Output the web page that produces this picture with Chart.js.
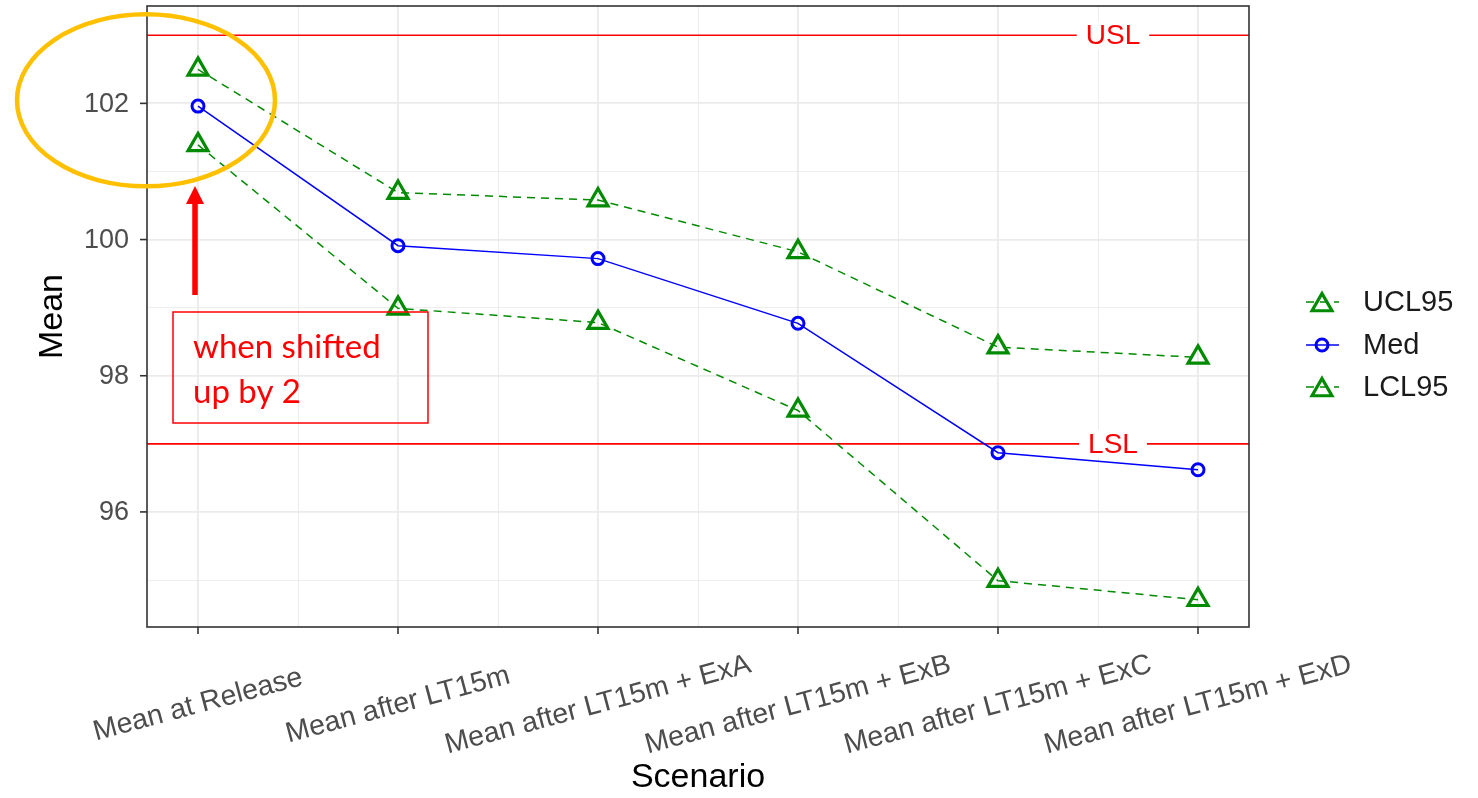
<!DOCTYPE html>
<html>
<head>
<meta charset="utf-8">
<script src="https://cdn.jsdelivr.net/npm/chart.js@4.4.1/dist/chart.umd.min.js"></script>
<style>
  html, body { margin: 0; padding: 0; background: #fff; }
  canvas { display: block; }
</style>
</head>
<body>
<canvas id="chart" width="1478" height="798"></canvas>
<script>
// values
const categories = [
  'Mean at Release',
  'Mean after LT15m',
  'Mean after LT15m + ExA',
  'Mean after LT15m + ExB',
  'Mean after LT15m + ExC',
  'Mean after LT15m + ExD'
];
const ucl95 = [102.50, 100.69, 100.58, 99.82, 98.42, 98.27];
const med = [101.96, 99.91, 99.72, 98.77, 96.87, 96.62];
const lcl95 = [101.39, 98.99, 98.78, 97.49, 94.99, 94.71];
const specValues = [103, 97];
const specLabels = ['USL', 'LSL'];
const yTickValues = [96, 98, 100, 102];
const seriesNames = ['UCL95', 'Med', 'LCL95'];
const noteLines = ['when shifted', 'up by 2'];

const GREEN = '#008B00';
const BLUE = '#0000FF';
const RED = '#FF0000';
const AXIS_FONT = '"Liberation Sans", Arial, sans-serif';

const toPoints = arr => arr.map((v, i) => ({ x: i + 1, y: v }));

const decor = {
  id: 'decor',
  beforeDatasetsDraw(chart) {
    const { ctx, chartArea: a, scales: { x, y } } = chart;
    ctx.save();
    specValues.forEach((v, i) => {
      const py = y.getPixelForValue(v);
      ctx.strokeStyle = RED;
      ctx.lineWidth = 1.6;
      ctx.beginPath();
      ctx.moveTo(a.left, py);
      ctx.lineTo(a.right, py);
      ctx.stroke();
      // label sitting on the line
      const lx = x.getPixelForValue(5.575);
      ctx.font = '28px ' + AXIS_FONT;
      const w = ctx.measureText(specLabels[i]).width;
      ctx.fillStyle = '#fff';
      ctx.fillRect(lx - w / 2 - 9, py - 14, w + 18, 28);
      ctx.fillStyle = RED;
      ctx.textAlign = 'center';
      ctx.textBaseline = 'middle';
      ctx.fillText(specLabels[i], lx, py + 1);
    });
    ctx.restore();
  },
  afterDraw(chart) {
    const { ctx, chartArea: a, scales: { x, y } } = chart;
    ctx.save();

    // panel border
    ctx.strokeStyle = '#333333';
    ctx.lineWidth = 1.6;
    ctx.strokeRect(a.left, a.top, a.right - a.left, a.bottom - a.top);

    // tick marks + labels
    ctx.fillStyle = '#4D4D4D';
    ctx.font = '27px ' + AXIS_FONT;
    ctx.textAlign = 'right';
    ctx.textBaseline = 'middle';
    yTickValues.forEach(v => {
      const py = y.getPixelForValue(v);
      ctx.beginPath();
      ctx.moveTo(a.left - 7, py);
      ctx.lineTo(a.left, py);
      ctx.stroke();
      ctx.fillText(String(v), a.left - 18, py + 1);
    });
    ctx.font = '28.5px ' + AXIS_FONT;
    categories.forEach((c, i) => {
      const px = x.getPixelForValue(i + 1);
      ctx.beginPath();
      ctx.moveTo(px, a.bottom);
      ctx.lineTo(px, a.bottom + 7);
      ctx.stroke();
      ctx.save();
      ctx.translate(px, a.bottom + 78);
      ctx.rotate(-15 * Math.PI / 180);
      ctx.textAlign = 'center';
      ctx.fillText(c, 0, 0);
      ctx.restore();
    });

    // axis titles
    ctx.fillStyle = '#000';
    ctx.font = '34px ' + AXIS_FONT;
    ctx.textAlign = 'center';
    ctx.fillText('Scenario', (a.left + a.right) / 2, 778);
    ctx.save();
    ctx.translate(53, (a.top + a.bottom) / 2);
    ctx.rotate(-Math.PI / 2);
    ctx.fillText('Mean', 0, 0);
    ctx.restore();

    // legend
    const rows = [302, 345, 387];
    [0, 1, 2].forEach((di, r) => {
      const ds = chart.data.datasets[di];
      const ly = rows[r];
      ctx.strokeStyle = ds.borderColor;
      ctx.lineWidth = 1.6;
      ctx.setLineDash(ds.borderDash || []);
      ctx.beginPath();
      ctx.moveTo(1306, ly);
      ctx.lineTo(1339, ly);
      ctx.stroke();
      ctx.setLineDash([]);
      ctx.lineWidth = ds.pointBorderWidth;
      ctx.strokeStyle = ds.pointBorderColor;
      ctx.fillStyle = 'rgba(0,0,0,0)';
      Chart.helpers.drawPoint(ctx, {
        pointStyle: ds.pointStyle,
        radius: ds.pointRadius,
        rotation: 0,
        borderWidth: ds.pointBorderWidth
      }, 1322, ly + (ds.pointStyle === 'triangle' ? 3 : 0));
      ctx.fillStyle = '#1A1A1A';
      ctx.font = '29px ' + AXIS_FONT;
      ctx.textAlign = 'left';
      ctx.textBaseline = 'middle';
      ctx.fillText(seriesNames[di], 1363, ly + 1);
    });

    // annotation: ellipse, arrow, note box
    const cx = x.getPixelForValue(1);
    ctx.strokeStyle = '#FFC000';
    ctx.lineWidth = 4.5;
    ctx.beginPath();
    ctx.ellipse(cx - 52, y.getPixelForValue(102) - 3, 129, 86, 0, 0, Math.PI * 2);
    ctx.stroke();

    ctx.strokeStyle = RED;
    ctx.fillStyle = RED;
    ctx.lineWidth = 5.5;
    ctx.beginPath();
    ctx.moveTo(cx - 3, 295);
    ctx.lineTo(cx - 3, 200);
    ctx.stroke();
    ctx.beginPath();
    ctx.moveTo(cx - 3, 186);
    ctx.lineTo(cx - 12, 204);
    ctx.lineTo(cx + 6, 204);
    ctx.closePath();
    ctx.fill();

    ctx.lineWidth = 1.5;
    ctx.strokeRect(cx - 25, 312, 255, 111);
    ctx.font = '33px Lato, "Open Sans", sans-serif';
    ctx.textAlign = 'left';
    ctx.textBaseline = 'middle';
    noteLines.forEach((t, i) => ctx.fillText(t, cx - 5, 347 + i * 45));

    ctx.restore();
  }
};

const xTicks = categories.flatMap((c, i) => (i === 0 ? [1] : [i + 0.5, i + 1]));
const yTicks = [95, 96, 97, 98, 99, 100, 101, 102, 103];

const triangleSeries = (name, values) => ({
  label: name,
  data: toPoints(values),
  borderColor: GREEN,
  borderWidth: 1.5,
  borderDash: [8, 6],
  pointStyle: 'triangle',
  pointRadius: 11.5,
  pointBorderColor: GREEN,
  pointBackgroundColor: 'rgba(0,0,0,0)',
  pointBorderWidth: 3.2
});

new Chart(document.getElementById('chart'), {
  type: 'line',
  data: {
    datasets: [
      triangleSeries(seriesNames[0], ucl95),
      {
        label: seriesNames[1],
        data: toPoints(med),
        borderColor: BLUE,
        borderWidth: 1.5,
        pointStyle: 'circle',
        pointRadius: 6,
        pointBorderColor: BLUE,
        pointBackgroundColor: 'rgba(0,0,0,0)',
        pointBorderWidth: 3
      },
      triangleSeries(seriesNames[2], lcl95)
    ]
  },
  options: {
    responsive: false,
    animation: false,
    devicePixelRatio: 1,
    layout: { autoPadding: false, padding: { left: 147, top: 6, right: 229, bottom: 171 } },
    plugins: { legend: { display: false }, tooltip: { enabled: false } },
    scales: {
      x: {
        type: 'linear',
        min: 0.745,
        max: 6.255,
        afterBuildTicks: s => { s.ticks = xTicks.map(v => ({ value: v })); },
        ticks: { display: false },
        border: { display: false },
        grid: {
          drawTicks: false,
          color: '#EBEBEB',
          lineWidth: c => (Number.isInteger(c.tick.value) ? 1.8 : 0.9)
        }
      },
      y: {
        type: 'linear',
        min: 94.31,
        max: 103.43,
        afterBuildTicks: s => { s.ticks = yTicks.map(v => ({ value: v })); },
        ticks: { display: false },
        border: { display: false },
        grid: {
          drawTicks: false,
          color: '#EBEBEB',
          lineWidth: c => (c.tick.value % 2 === 0 ? 1.8 : 0.9)
        }
      }
    }
  },
  plugins: [decor]
});
</script>
</body>
</html>
